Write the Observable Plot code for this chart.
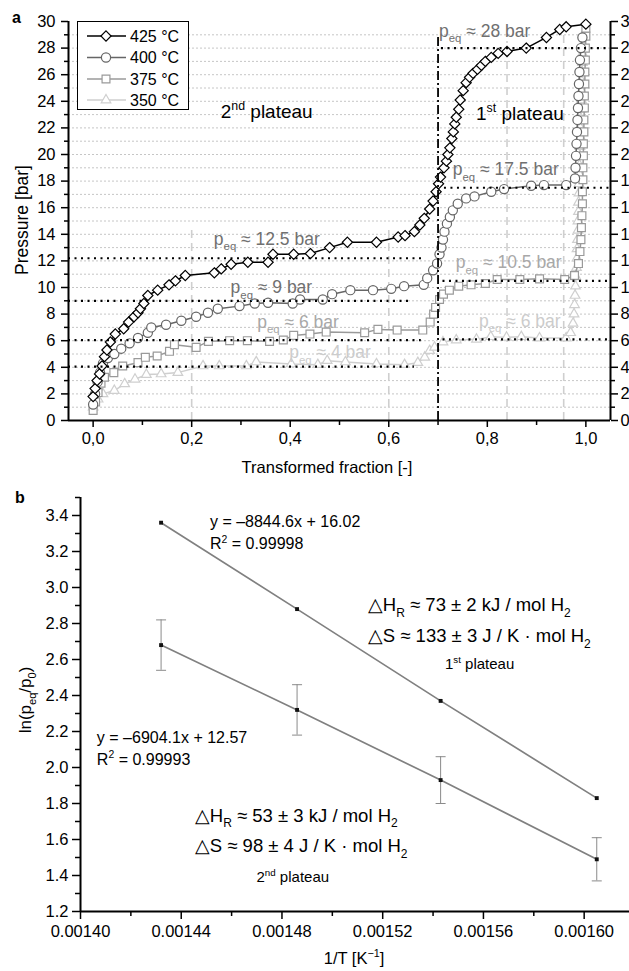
<!DOCTYPE html>
<html><head><meta charset="utf-8">
<script src="https://cdn.jsdelivr.net/npm/d3@7"></script>
<script src="https://cdn.jsdelivr.net/npm/@observablehq/plot@0.6"></script>
<style>
html,body{margin:0;padding:0;background:#fff;overflow:hidden;}
#wrap{width:629px;}
#wrap svg{display:block;}
</style></head><body><div id="wrap"></div>
<script>
const FONT = "'Liberation Sans', Arial, Helvetica, sans-serif";

// ---------- Panel a data ----------
const seriesNames = ["425 °C", "400 °C", "375 °C", "350 °C"];
const seriesColors = ["#000000", "#666666", "#9a9a9a", "#cfcfcf"];
const seriesSymbols = ["diamond2", "circle", "square2", "triangle2"];
const seriesR = [4.6, 4.6, 5, 4.6];

const s425 = [[0.0,1.8],[0.004,2.4],[0.008,3.0],[0.013,3.5],[0.018,4.1],[0.023,4.8],[0.028,5.3],[0.035,5.9],[0.045,6.5],[0.062,6.9],[0.072,7.4],[0.083,7.8],[0.091,8.1],[0.096,8.4],[0.103,8.8],[0.111,9.4],[0.131,9.8],[0.154,10.2],[0.167,10.5],[0.187,10.9],[0.246,11.1],[0.26,11.4],[0.28,11.75],[0.314,11.9],[0.355,11.9],[0.365,12.5],[0.407,12.5],[0.441,12.55],[0.48,13.0],[0.516,13.4],[0.575,13.4],[0.619,13.8],[0.633,13.9],[0.652,14.2],[0.663,14.7],[0.672,15.2],[0.683,15.9],[0.69,16.5],[0.696,17.2],[0.701,17.8],[0.705,18.3],[0.712,19.0],[0.717,19.5],[0.72,20.0],[0.724,20.5],[0.728,21.2],[0.731,21.7],[0.734,22.3],[0.737,22.8],[0.742,23.4],[0.745,24.1],[0.751,24.8],[0.757,25.4],[0.764,25.8],[0.771,26.1],[0.78,26.4],[0.788,26.7],[0.796,27.0],[0.808,27.3],[0.822,27.6],[0.84,27.75],[0.879,28.0],[0.92,28.8],[0.947,29.4],[0.96,29.6],[1.0,29.8]];

const s400 = [[0.0,1.2],[0.004,2.0],[0.009,2.9],[0.014,3.6],[0.02,4.3],[0.03,4.7],[0.043,5.0],[0.057,5.4],[0.074,5.8],[0.091,6.2],[0.111,6.6],[0.118,7.0],[0.148,7.2],[0.179,7.5],[0.209,7.8],[0.233,8.1],[0.253,8.4],[0.297,8.6],[0.328,8.8],[0.355,8.85],[0.405,8.8],[0.42,9.1],[0.466,9.1],[0.485,9.5],[0.522,9.8],[0.568,9.8],[0.605,9.9],[0.631,10.1],[0.671,10.2],[0.678,10.7],[0.69,11.3],[0.698,11.8],[0.703,12.5],[0.707,13.0],[0.71,13.6],[0.713,14.2],[0.718,14.8],[0.724,15.3],[0.73,15.8],[0.74,16.3],[0.757,16.7],[0.774,16.85],[0.808,17.2],[0.834,17.4],[0.889,17.65],[0.915,17.7],[0.96,17.7],[0.978,18.2],[0.979,19.0],[0.98,19.9],[0.981,20.8],[0.982,21.7],[0.983,22.6],[0.984,23.5],[0.985,24.4],[0.986,25.3],[0.987,26.2],[0.988,27.1],[0.99,28.0],[0.993,28.8]];

const s375 = [[0.0,0.75],[0.005,1.4],[0.01,2.1],[0.016,2.8],[0.023,3.25],[0.042,3.6],[0.06,4.1],[0.091,4.35],[0.106,4.75],[0.13,4.85],[0.155,5.2],[0.165,5.7],[0.209,5.5],[0.234,5.95],[0.277,6.0],[0.313,6.0],[0.358,5.95],[0.386,6.05],[0.407,6.4],[0.44,6.5],[0.473,6.65],[0.551,6.6],[0.578,6.85],[0.617,6.8],[0.669,6.8],[0.684,7.4],[0.691,8.0],[0.695,8.5],[0.703,9.1],[0.711,9.5],[0.723,9.8],[0.742,10.1],[0.767,10.2],[0.796,10.3],[0.82,10.6],[0.866,10.6],[0.906,10.65],[0.957,10.6],[0.977,10.9],[0.985,11.8],[0.988,12.7],[0.99,13.6],[0.991,14.5],[0.992,15.4],[0.993,16.3],[0.993,17.2],[0.994,18.1],[0.994,19.0],[0.995,19.9],[0.995,20.8],[0.996,21.7],[0.996,22.6],[0.997,23.5],[0.997,24.4],[0.998,25.3],[0.998,26.2],[0.999,27.1],[0.999,28.0],[1.0,28.9],[1.0,29.5]];

const s350 = [[0.0,1.0],[0.01,1.6],[0.02,2.0],[0.043,2.25],[0.064,2.75],[0.085,3.1],[0.108,3.45],[0.138,3.5],[0.172,3.6],[0.223,4.1],[0.256,4.1],[0.311,4.1],[0.331,4.4],[0.402,4.25],[0.456,4.2],[0.475,4.5],[0.512,4.4],[0.575,4.25],[0.632,4.2],[0.659,4.35],[0.673,4.75],[0.683,5.25],[0.693,5.5],[0.71,5.9],[0.737,6.05],[0.778,6.1],[0.807,6.3],[0.839,6.25],[0.869,6.3],[0.906,6.2],[0.96,6.2],[0.969,6.6],[0.974,7.3],[0.976,8.0],[0.977,8.7],[0.978,9.4],[0.979,10.1],[0.98,10.8],[0.981,11.5],[0.982,12.2],[0.982,12.9],[0.983,13.6],[0.984,14.3],[0.984,15.0],[0.985,15.7],[0.985,16.4],[0.986,17.1],[0.986,17.8],[0.987,18.5],[0.987,19.2],[0.988,19.9],[0.988,20.6],[0.989,21.3],[0.989,22.0],[0.99,22.7],[0.99,23.4],[0.991,24.1],[0.991,24.8],[0.992,25.5],[0.992,26.2],[0.993,26.9],[0.993,27.6],[0.994,28.3],[0.995,29.0]];

const seriesData = [s425, s400, s375, s350];

// reference lines (panel a)
const guideX = [0.2, 0.6, 0.84, 0.955];
const guideTop = [14.5, 14.5, 28.5, 29.7];
const peqLeftP = [12.2, 9.0, 6.05, 4.05];
const peqLeftEnd = [0.672, 0.646, 0.666, 0.652];
const peqRightP = [28.0, 17.5, 10.5, 6.1];
const peqRightStart = [0.707, 0.713, 0.71, 0.71];
const splitX = [0.7];
const splitTop = [29];

const pTicks = d3.range(0, 31, 2);
const pMinor = d3.range(1, 30, 2);
const fracTicks = [0, 0.2, 0.4, 0.6, 0.8, 1.0];
const fracMinor = [0.1, 0.3, 0.5, 0.7, 0.9];

// ---------- Panel b data ----------
const invT = [0.001432, 0.001486, 0.001543, 0.001605];
const lnP1 = [3.36, 2.88, 2.37, 1.83];
const lnP2 = [2.68, 2.32, 1.93, 1.49];
const err2 = [0.14, 0.14, 0.13, 0.12];
const invTTicks = [0.0014, 0.00144, 0.00148, 0.00152, 0.00156, 0.0016];
const invTMinor = [0.00142, 0.00146, 0.0015, 0.00154, 0.00158];
const lnTicks = [1.2, 1.4, 1.6, 1.8, 2.0, 2.2, 2.4, 2.6, 2.8, 3.0, 3.2, 3.4];
const lnMinor = [1.3, 1.5, 1.7, 1.9, 2.1, 2.3, 2.5, 2.7, 2.9, 3.1, 3.3, 3.5];

// ---------- helpers ----------
function rich(textSel, str, fs) {
  const parts = str.split(/([_^]\{[^}]*\})/).filter(s => s.length);
  let shift = 0;
  for (const p of parts) {
    const m = p.match(/^([_^])\{(.*)\}$/);
    if (m) {
      const d = m[1] === "_" ? fs * 0.3 : -fs * 0.4;
      textSel.append("tspan").attr("dy", d - shift).attr("font-size", fs * 0.65).text(m[2]);
      shift = d;
    } else {
      textSel.append("tspan").attr("dy", -shift).text(p);
      shift = 0;
    }
  }
}
function addText(svg, str, px, py, opts = {}) {
  const fs = opts.fs || 16;
  const t = d3.select(svg).append("text")
    .attr("x", px).attr("y", py)
    .attr("font-family", FONT).attr("font-size", fs)
    .attr("fill", opts.color || "#000")
    .attr("text-anchor", opts.anchor || "start");
  if (opts.bold) t.attr("font-weight", "bold");
  if (opts.rotate) t.attr("transform", `rotate(-90,${px},${py})`);
  rich(t, str, fs);
  return t;
}
const hbar = { draw(ctx, size) { const w = Math.sqrt(size / Math.PI); ctx.moveTo(-w, 0); ctx.lineTo(w, 0); } };

// ---------- Panel a ----------
const seriesMarks = [];
for (let k = 3; k >= 0; k--) {
  seriesMarks.push(Plot.line(seriesData[k], { x: d => d[0], y: d => d[1], stroke: seriesColors[k], strokeWidth: 1.5 }));
  seriesMarks.push(Plot.dot(seriesData[k], { x: d => d[0], y: d => d[1], symbol: seriesSymbols[k], r: seriesR[k], stroke: seriesColors[k], fill: "white", strokeWidth: 1.2 }));
}
const idx4 = [0, 1, 2, 3];

const chartA = Plot.plot({
  width: 629, height: 480,
  marginTop: 21, marginBottom: 60, marginLeft: 68, marginRight: 19,
  style: { fontFamily: FONT, fontSize: "16px", color: "#000", background: "#fff" },
  x: { domain: [-0.05, 1.05] },
  y: { domain: [0, 30] },
  marks: [
    Plot.gridY(d3.range(1, 30), { stroke: "#b8b8b8", strokeOpacity: 1, strokeDasharray: "2,2", strokeWidth: 0.8 }),
    Plot.ruleX(idx4, { x: i => guideX[i], y1: 0, y2: i => guideTop[i], stroke: "#cfcfcf", strokeDasharray: "8,5", strokeWidth: 1.6 }),
    ...seriesMarks,
    Plot.ruleY(idx4, { y: i => peqLeftP[i], x1: -0.05, x2: i => peqLeftEnd[i], stroke: "#000", strokeDasharray: "2,4.5", strokeWidth: 2.2 }),
    Plot.ruleY(idx4, { y: i => peqRightP[i], x1: i => peqRightStart[i], x2: 1.05, stroke: "#000", strokeDasharray: "2,4.5", strokeWidth: 2.2 }),
    Plot.ruleX([0], { x: i => splitX[i], y1: 0, y2: i => splitTop[i], stroke: "#000", strokeDasharray: "9,3,2,3", strokeWidth: 1.8 }),
    Plot.axisY(pTicks, { anchor: "left", tickSize: 7, tickPadding: 6, label: null, strokeWidth: 1.5, fontSize: 16.5 }),
    Plot.axisY(pMinor, { anchor: "left", tickSize: 4, tickFormat: () => "", label: null, strokeWidth: 1.5 }),
    Plot.axisY(pTicks, { anchor: "right", tickSize: 7, tickPadding: 3, label: null, strokeWidth: 1.5, fontSize: 16.5 }),
    Plot.axisY(pMinor, { anchor: "right", tickSize: 4, tickFormat: () => "", label: null, strokeWidth: 1.5 }),
    Plot.axisX(fracTicks, { anchor: "bottom", tickSize: 7, tickPadding: 5, label: null, strokeWidth: 1.5, fontSize: 16.5, tickFormat: d => d.toFixed(1).replace(".", ",") }),
    Plot.axisX(fracMinor, { anchor: "bottom", tickSize: 5, tickFormat: () => "", label: null, strokeWidth: 1.5 }),
    Plot.ruleX([-0.05], { stroke: "#000", strokeWidth: 2 }),
    Plot.ruleX([1.05], { stroke: "#000", strokeWidth: 2 }),
    Plot.ruleY([0], { stroke: "#000", strokeWidth: 2 })
  ]
});

{
  const sx = chartA.scale("x"), sy = chartA.scale("y");
  const X = v => sx.apply(v), Y = v => sy.apply(v);
  const notes = [
    ["2^{nd} plateau", 0.26, 22.7, "#000", 19],
    ["1^{st} plateau", 0.778, 22.56, "#000", 19],
    ["p_{eq} ≈ 28 bar", 0.703, 28.8, "#707070", 17.5],
    ["p_{eq} ≈ 17.5 bar", 0.731, 18.4, "#707070", 17.5],
    ["p_{eq} ≈ 12.5 bar", 0.246, 13.16, "#707070", 17.5],
    ["p_{eq} ≈ 9 bar", 0.28, 9.52, "#707070", 17.5],
    ["p_{eq} ≈ 6 bar", 0.334, 6.9, "#a8a8a8", 17.5],
    ["p_{eq} ≈ 4 bar", 0.399, 4.64, "#cccccc", 17.5],
    ["p_{eq} ≈ 10.5 bar", 0.737, 11.4, "#a8a8a8", 17.5],
    ["p_{eq} ≈ 6 bar", 0.784, 7.0, "#cccccc", 17.5]
  ];
  for (const [t, x, y, c, fs] of notes) addText(chartA, t, X(x), Y(y), { color: c, fs });
  addText(chartA, "Transformed fraction [-]", 327, 473, { anchor: "middle", fs: 16.5 });
  addText(chartA, "Pressure [bar]", 28, 220, { anchor: "middle", fs: 17.5, rotate: true });
  addText(chartA, "a", 12, 23, { bold: true, fs: 16 });

  // legend
  const svg = d3.select(chartA);
  const lg = svg.append("g");
  lg.append("rect").attr("x", 77.5).attr("y", 21.5).attr("width", 111).attr("height", 88)
    .attr("fill", "white").attr("stroke", "#000").attr("stroke-width", 1);
  const rowsY = [36, 57.5, 79, 100];
  seriesNames.forEach((name, k) => {
    const y = rowsY[k];
    lg.append("line").attr("x1", 87).attr("x2", 126).attr("y1", y).attr("y2", y)
      .attr("stroke", seriesColors[k]).attr("stroke-width", 1.5);
    const sym = { diamond2: d3.symbolDiamond2, circle: d3.symbolCircle, square2: d3.symbolSquare2, triangle2: d3.symbolTriangle2 }[seriesSymbols[k]];
    lg.append("path").attr("d", d3.symbol(sym, Math.PI * seriesR[k] * seriesR[k])())
      .attr("transform", `translate(106,${y})`).attr("fill", "white")
      .attr("stroke", seriesColors[k]).attr("stroke-width", 1.2);
    addText(lg.node(), name, 130, y + 5.5, { fs: 16 });
  });
}

// ---------- Panel b ----------
const chartB = Plot.plot({
  width: 629, height: 491,
  marginTop: 17, marginBottom: 60, marginLeft: 80, marginRight: 0,
  style: { fontFamily: FONT, fontSize: "16px", color: "#000", background: "#fff" },
  x: { domain: [0.0014, 0.001618] },
  y: { domain: [1.2, 3.5] },
  marks: [
    Plot.line(idx4, { x: i => invT[i], y: i => lnP1[i], stroke: "#808080", strokeWidth: 1.7 }),
    Plot.line(idx4, { x: i => invT[i], y: i => lnP2[i], stroke: "#808080", strokeWidth: 1.7 }),
    Plot.ruleX(idx4, { x: i => invT[i], y1: i => lnP2[i] - err2[i], y2: i => lnP2[i] + err2[i], stroke: "#8a8a8a", strokeWidth: 1 }),
    Plot.dot(idx4, { x: i => invT[i], y: i => lnP2[i] - err2[i], symbol: hbar, r: 5, stroke: "#8a8a8a", strokeWidth: 1 }),
    Plot.dot(idx4, { x: i => invT[i], y: i => lnP2[i] + err2[i], symbol: hbar, r: 5, stroke: "#8a8a8a", strokeWidth: 1 }),
    Plot.dot(idx4, { x: i => invT[i], y: i => lnP1[i], symbol: "square", r: 2.2, fill: "#111" }),
    Plot.dot(idx4, { x: i => invT[i], y: i => lnP2[i], symbol: "square", r: 2.2, fill: "#111" }),
    Plot.axisY(lnTicks, { anchor: "left", tickSize: 8, tickPadding: 4, label: null, strokeWidth: 1.5, fontSize: 16.5, tickFormat: d => d.toFixed(1) }),
    Plot.axisY(lnMinor, { anchor: "left", tickSize: 5, tickFormat: () => "", label: null, strokeWidth: 1.5 }),
    Plot.axisX(invTTicks, { anchor: "bottom", tickSize: 8, tickPadding: 6, label: null, strokeWidth: 1.5, fontSize: 16.5, tickFormat: d => d.toFixed(5) }),
    Plot.axisX(invTMinor, { anchor: "bottom", tickSize: 5, tickFormat: () => "", label: null, strokeWidth: 1.5 }),
    Plot.ruleX([0.0014], { stroke: "#000", strokeWidth: 2 }),
    Plot.ruleY([1.2], { stroke: "#000", strokeWidth: 2 })
  ]
});

{
  const sx = chartB.scale("x"), sy = chartB.scale("y");
  const X = v => sx.apply(v), Y = v => sy.apply(v);
  const notes = [
    ["y = –8844.6x + 16.02", 0.0014516, 3.333, 16, "start"],
    ["R^{2} = 0.99998", 0.0014516, 3.211, 16, "start"],
    ["△H_{R} ≈ 73 ± 2 kJ / mol H_{2}", 0.0015143, 2.865, 18.5, "start"],
    ["△S ≈ 133 ± 3 J / K · mol H_{2}", 0.0015143, 2.692, 18.5, "start"],
    ["1^{st} plateau", 0.0015587, 2.542, 15, "middle"],
    ["y = –6904.1x + 12.57", 0.0014067, 2.135, 16, "start"],
    ["R^{2} = 0.99993", 0.0014067, 2.013, 16, "start"],
    ["△H_{R} ≈ 53 ± 3 kJ / mol H_{2}", 0.0014456, 1.695, 18.5, "start"],
    ["△S ≈ 98 ± 4 J / K · mol H_{2}", 0.0014456, 1.528, 18.5, "start"],
    ["2^{nd} plateau", 0.0014845, 1.361, 15, "middle"]
  ];
  for (const [t, x, y, fs, anchor] of notes) addText(chartB, t, X(x), Y(y), { fs, anchor });
  addText(chartB, "1/T [K^{−1}]", 354, 484, { anchor: "middle", fs: 16.5 });
  addText(chartB, "ln(p_{eq}/p_{0})", 31, 220, { anchor: "middle", fs: 17, rotate: true });
  addText(chartB, "b", 15, 23, { bold: true, fs: 16 });
}

document.getElementById("wrap").append(chartA, chartB);
</script></body></html>
